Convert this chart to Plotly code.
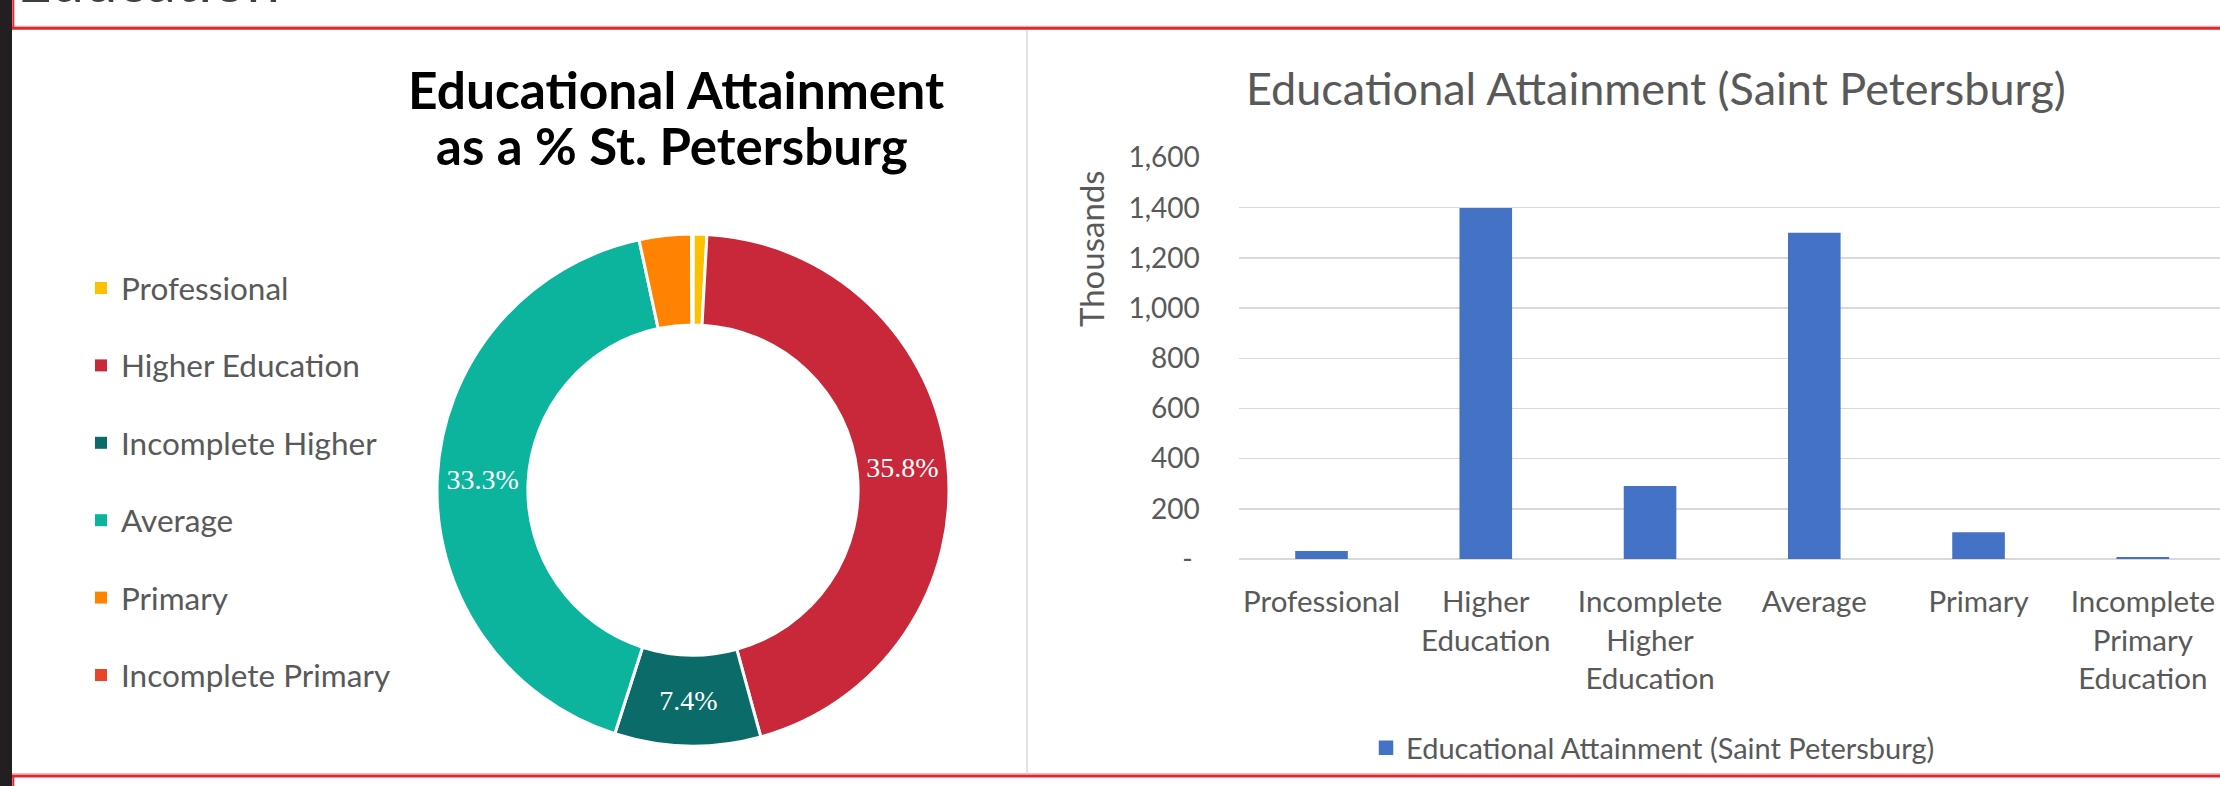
import plotly.graph_objects as go

W, H = 2220, 786

# ---------------- data ----------------
pie_categories = ["Professional", "Higher Education", "Incomplete Higher",
                  "Average", "Primary", "Incomplete Primary"]
bar_categories = ["Professional", "Higher Education", "Incomplete Higher Education",
                  "Average", "Primary", "Incomplete Primary Education"]
bar_ticktext = ["Professional", "Higher<br>Education", "Incomplete<br>Higher<br>Education",
                "Average", "Primary", "Incomplete<br>Primary<br>Education"]
values_thousands = [27, 1394, 286, 1295, 102, 3]
pie_pct_labels = ["", "35.8%", "7.4%", "33.3%", "", ""]
pie_colors = ["#FFC000", "#C8283A", "#0B6B68", "#0CB39D", "#FF8200", "#E8452B"]
y_tickvals = [0, 200, 400, 600, 800, 1000, 1200, 1400, 1600]
y_ticktext = ["-\u00a0", "200", "400", "600", "800", "1,000", "1,200", "1,400", "1,600"]
series_name = "Educational Attainment (Saint Petersburg)"


def px_x(x):
    return x / W


def px_y(y):
    return 1 - y / H


GRAY = "#595959"
FONT = "Lato"
BLUE = "#4472C4"

fig = go.Figure()

fig.add_trace(go.Pie(
    labels=pie_categories, values=values_thousands, text=pie_pct_labels,
    textinfo="text", textposition="inside", insidetextorientation="horizontal",
    sort=False, direction="clockwise", rotation=0, hole=0.645,
    marker=dict(colors=pie_colors, line=dict(color="white", width=3)),
    textfont=dict(family="Liberation Serif", size=28, color="white"),
    insidetextfont=dict(family="Liberation Serif", size=28, color="white"),
    domain=dict(x=[px_x(437), px_x(949)], y=[px_y(746), px_y(234)]),
    showlegend=False, hoverinfo="skip", automargin=False,
))

fig.add_trace(go.Bar(
    x=bar_categories, y=values_thousands, name=series_name,
    marker=dict(color=BLUE, line=dict(color=BLUE, width=2.5)), width=0.305,
    showlegend=True, hoverinfo="skip",
))


def ann(**kw):
    d = dict(xref="paper", yref="paper", showarrow=False)
    d.update(kw)
    return d


annotations = [
    ann(text="Education", x=px_x(15), y=px_y(17), xanchor="left", yanchor="bottom",
        font=dict(family=FONT, size=60, color="#404040")),
    ann(text="<b>Educational Attainment</b>", x=px_x(676), y=px_y(89),
        xanchor="center", yanchor="middle", font=dict(family=FONT, size=51.5, color="#000000")),
    ann(text="<b>as a % St. Petersburg</b>", x=px_x(672), y=px_y(145),
        xanchor="center", yanchor="middle", font=dict(family=FONT, size=51, color="#000000")),
    ann(text=series_name, x=px_x(1656), y=px_y(88), xanchor="center", yanchor="middle",
        font=dict(family=FONT, size=45, color=GRAY)),
    ann(text="Thousands", x=px_x(1091), y=px_y(249), xanchor="center", yanchor="middle",
        textangle=-90, font=dict(family=FONT, size=33, color=GRAY)),
]

shapes = [
    # slide frame
    dict(type="rect", xref="paper", yref="paper", x0=0, x1=px_x(12), y0=0, y1=1,
         fillcolor="#231F20", line=dict(width=0), layer="above"),
    dict(type="line", xref="paper", yref="paper", x0=px_x(12), x1=1, y0=px_y(26), y1=px_y(26),
         line=dict(color="#C8C8C8", width=1)),
    dict(type="line", xref="paper", yref="paper", x0=px_x(12), x1=1, y0=px_y(28.3), y1=px_y(28.3),
         line=dict(color="#E3262E", width=3)),
    dict(type="line", xref="paper", yref="paper", x0=px_x(13.3), x1=px_x(13.3), y0=1, y1=px_y(28),
         line=dict(color="#E3262E", width=2)),
    dict(type="line", xref="paper", yref="paper", x0=px_x(12), x1=1, y0=px_y(773.5), y1=px_y(773.5),
         line=dict(color="#F2B8BB", width=1)),
    dict(type="line", xref="paper", yref="paper", x0=px_x(12), x1=1, y0=px_y(776), y1=px_y(776),
         line=dict(color="#E3262E", width=3)),
    dict(type="line", xref="paper", yref="paper", x0=px_x(13.3), x1=px_x(13.3), y0=px_y(776), y1=0,
         line=dict(color="#E3262E", width=2)),
    dict(type="line", xref="paper", yref="paper", x0=px_x(1027), x1=px_x(1027), y0=px_y(30), y1=px_y(774),
         line=dict(color="#D9D9D9", width=1.5)),
]

# legend of the doughnut (Excel-style, left side)
for i, (cat, col) in enumerate(zip(pie_categories, pie_colors)):
    cy = 288 + 77.4 * i
    annotations.append(ann(text=cat, x=px_x(119), y=px_y(cy), xanchor="left", yanchor="middle",
                           font=dict(family=FONT, size=31.5, color=GRAY)))
    shapes.append(dict(type="rect", xref="paper", yref="paper",
                       x0=px_x(95), x1=px_x(107), y0=px_y(cy + 6), y1=px_y(cy - 6),
                       fillcolor=col, line=dict(width=0)))

fig.update_layout(
    width=W, height=H, margin=dict(l=0, r=0, t=0, b=0, pad=0, autoexpand=False),
    paper_bgcolor="white", plot_bgcolor="white", hovermode=False,
    font=dict(family=FONT, color=GRAY),
    xaxis=dict(domain=[px_x(1239.4), 1], range=[-0.5, 5.47], type="category",
               tickmode="array", tickvals=bar_categories, ticktext=bar_ticktext,
               showgrid=False, showline=False, ticks="outside", ticklen=17, automargin=False,
               tickcolor="rgba(0,0,0,0)", tickfont=dict(family=FONT, size=29.5, color=GRAY)),
    yaxis=dict(domain=[px_y(559), px_y(157.5)], range=[0, 1600], automargin=False,
               tickmode="array", tickvals=y_tickvals, ticktext=y_ticktext,
               showgrid=True, gridcolor="#D9D9D9", gridwidth=1.5,
               zeroline=True, zerolinecolor="#D9D9D9", zerolinewidth=1.5,
               showline=False, ticks="outside", ticklen=33, tickcolor="rgba(0,0,0,0)",
               tickfont=dict(family=FONT, size=28, color=GRAY)),
    bargap=0.69,
    showlegend=True,
    legend=dict(orientation="v", x=px_x(1366), xanchor="left", y=px_y(748), yanchor="middle",
                font=dict(family=FONT, size=29, color=GRAY), bgcolor="rgba(0,0,0,0)",
                borderwidth=0, itemwidth=30),
    annotations=annotations,
    shapes=shapes,
)

reset_js = (
    "document.documentElement.style.margin='0';"
    "document.documentElement.style.overflow='hidden';"
    "document.documentElement.style.background='white';"
    "document.body.style.margin='0';"
    "document.body.style.overflow='hidden';"
    "document.body.style.background='white';"
)

fig.write_html("out.html", config={"displayModeBar": False, "staticPlot": True},
               post_script=reset_js)
